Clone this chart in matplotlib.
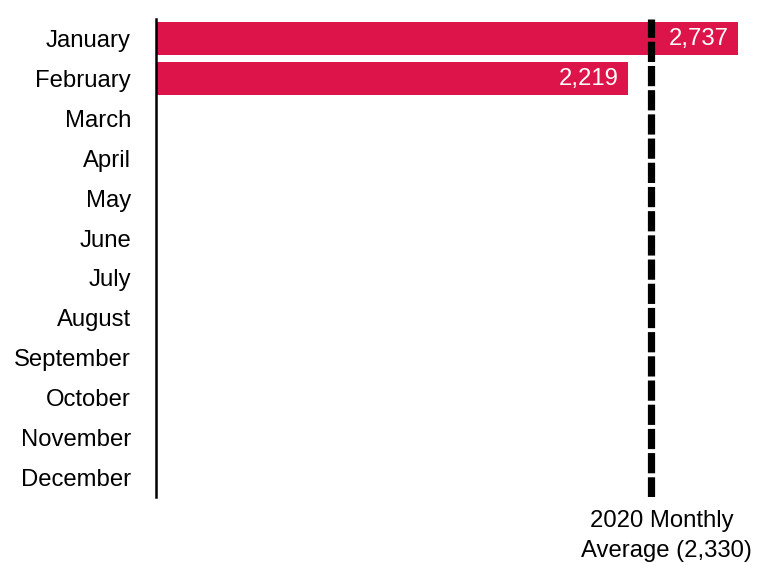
import matplotlib
matplotlib.use("Agg")
import matplotlib.pyplot as plt
from matplotlib.transforms import blended_transform_factory, offset_copy

# Monthly counts (only the first two months reported so far)
months = ["January", "February", "March", "April", "May", "June", "July",
          "August", "September", "October", "November", "December"]
values = [2737, 2219, None, None, None, None, None, None, None, None, None, None]
monthly_average = 2330
average_label = ["2020 Monthly", "Average (2,330)"]

bar_color = "#DC1449"
plt.rcParams["font.family"] = ["Liberation Sans", "DejaVu Sans"]
plt.rcParams["font.size"] = 17.2

W, H, DPI = 767, 568, 100
fig = plt.figure(figsize=(W / DPI, H / DPI), dpi=DPI)
ax = fig.add_axes([156 / W, 1 - 497 / H, (737.7 - 156) / W, (497 - 19) / H])

positions = list(range(len(months)))
for pos, val in zip(positions, values):
    if val is None:
        continue
    ax.barh(pos, val, height=0.83, color=bar_color, zorder=2)
    ax.annotate(f"{val:,}", xy=(val, pos), xytext=(-6.2, 0),
                textcoords="offset points", ha="right", va="center",
                color="white", fontsize=17.2, zorder=4)

# Dashed reference line for the yearly monthly average
ax.axvline(monthly_average, color="black", lw=5.2,
           dashes=(2.8, 0.55), dash_capstyle="butt", zorder=3)

ax.set_xlim(0, max(v for v in values if v is not None))
ax.set_ylim(len(months) - 0.5, -0.5)
ax.set_yticks(positions)
ax.set_yticklabels(months)
ax.tick_params(axis="y", length=0, pad=18, labelsize=17.2)
ax.set_xticks([])

for side in ("top", "right", "bottom"):
    ax.spines[side].set_visible(False)
ax.spines["left"].set_linewidth(1.8)
ax.spines["left"].set_color("black")

# Caption under the average line
trans = blended_transform_factory(ax.transData, fig.transFigure)
ax.text(monthly_average, 1 - 527 / H, average_label[0],
        transform=offset_copy(trans, fig=fig, x=11, y=0, units="dots"),
        ha="center", va="baseline", fontsize=17.2)
ax.text(monthly_average, 1 - 557 / H, average_label[1],
        transform=offset_copy(trans, fig=fig, x=15, y=0, units="dots"),
        ha="center", va="baseline", fontsize=17.2)

fig.savefig("out.png", dpi=DPI)
